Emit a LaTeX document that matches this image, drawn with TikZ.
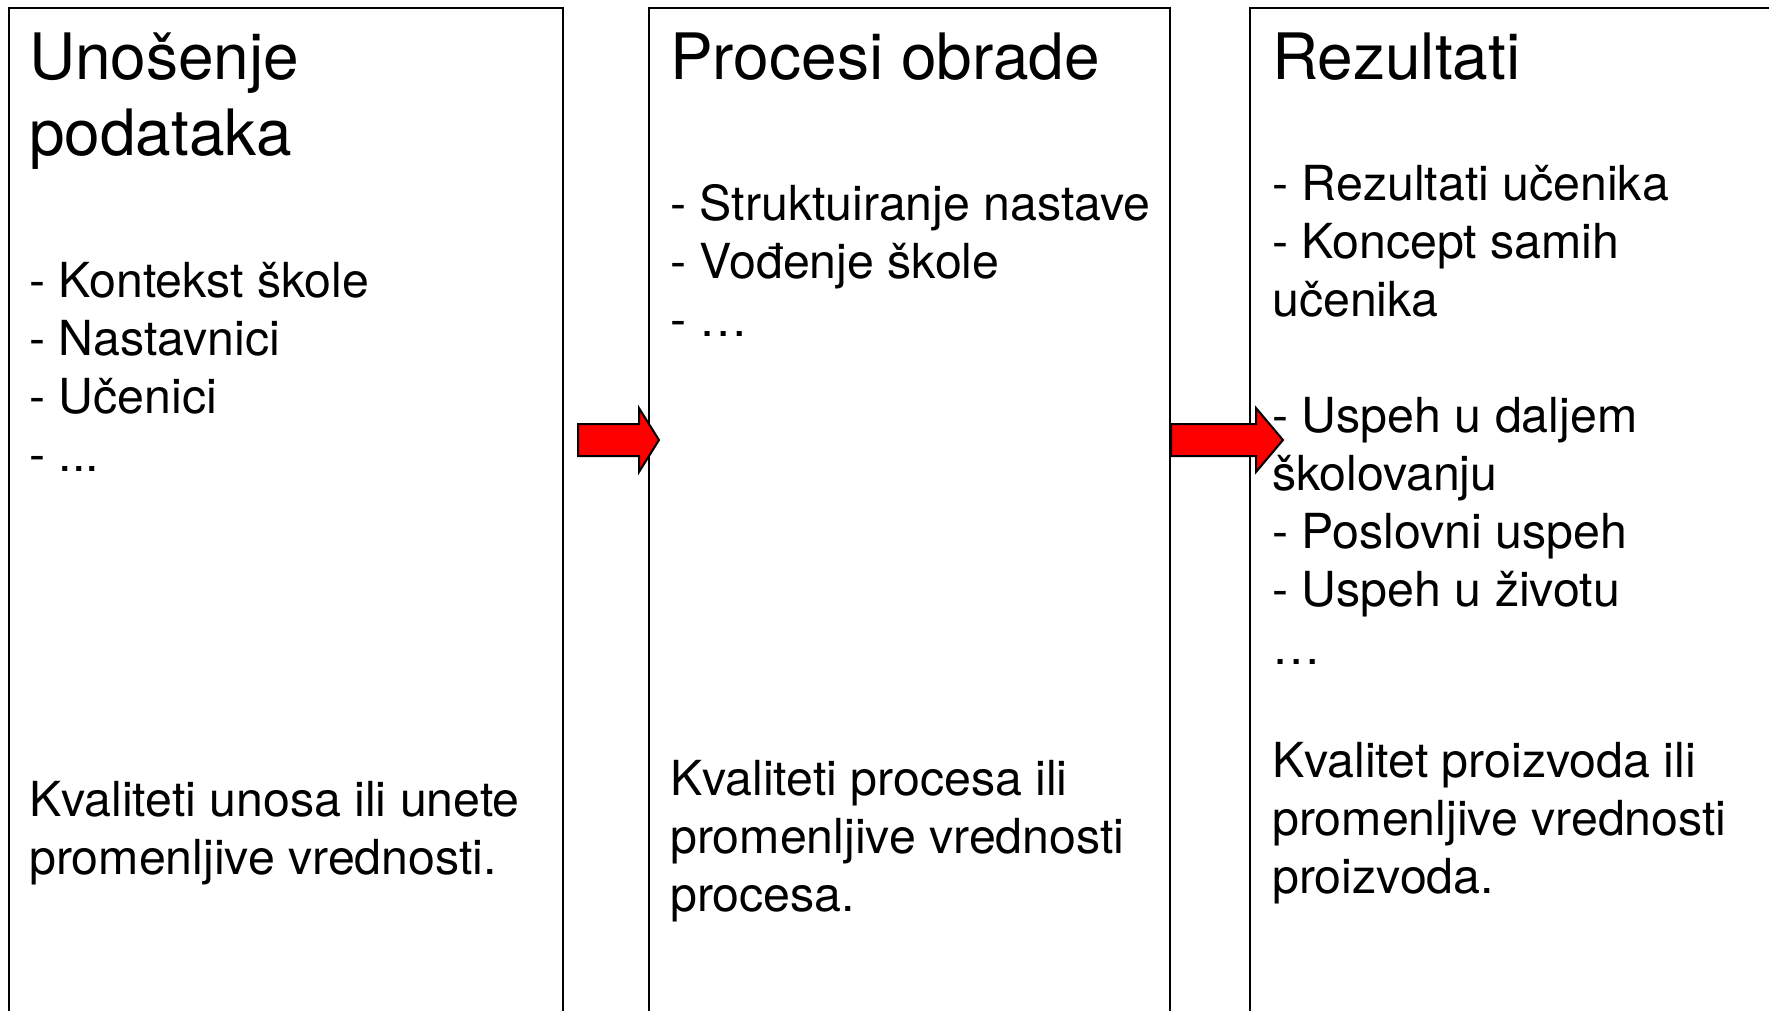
\documentclass[tikz,border=0pt]{standalone}
\usepackage{fontspec}
\setmainfont{TeX Gyre Heros}
\begin{document}
\begin{tikzpicture}[x=1pt,y=-1pt,
  panel/.style={draw=black,line width=2.5pt,inner sep=0pt,outer sep=0pt,anchor=north west},
  ttl/.style={anchor=base west,inner sep=0pt,font=\fontsize{64}{73}\selectfont},
  txt/.style={anchor=base west,inner sep=0pt,font=\fontsize{48.3}{58}\selectfont},
  blockarrow/.style={draw=black,fill=red,line width=2pt,line join=miter}]
\useasboundingbox (0,0) rectangle (1769,1010);
\clip (0,0) rectangle (1769,1010);
% panels
\node[panel,minimum width=554pt,minimum height=1030pt] (p1) at (9,8) {};
\node[panel,minimum width=521pt,minimum height=1030pt] (p2) at (649,8) {};
\node[panel,minimum width=560pt,minimum height=1030pt] (p3) at (1250,8) {};
% panel 1
\node[ttl] (a1) at (29,79) {Unošenje};
\node[ttl] (a2) at (29,155) {podataka};
\node[txt] (a3) at (29,297) {- Kontekst škole};
\node[txt] (a4) at (29,355) {- Nastavnici};
\node[txt] (a5) at (29,413) {- Učenici};
\node[txt] (a6) at (29,471) {- ...};
\node[txt] (a7) at (29,816) {Kvaliteti unosa ili unete};
\node[txt] (a8) at (29,874) {promenljive vrednosti.};
% panel 2
\node[ttl] (b1) at (670,79) {Procesi obrade};
\node[txt] (b2) at (670,220) {- Struktuiranje nastave};
\node[txt] (b3) at (670,278) {- Vođenje škole};
\node[txt] (b4) at (670,336) {- …};
\node[txt] (b5) at (670,795) {Kvaliteti procesa ili};
\node[txt] (b6) at (670,853) {promenljive vrednosti};
\node[txt] (b7) at (670,911) {procesa.};
% panel 3
\node[ttl] (c1) at (1272,79) {Rezultati};
\node[txt] (c2) at (1272,200) {- Rezultati učenika};
\node[txt] (c3) at (1272,258) {- Koncept samih};
\node[txt] (c4) at (1272,316) {učenika};
\node[txt] (c5) at (1272,432) {- Uspeh u daljem};
\node[txt] (c6) at (1272,490) {školovanju};
\node[txt] (c7) at (1272,548) {- Poslovni uspeh};
\node[txt] (c8) at (1272,606) {- Uspeh u životu};
\node[txt] (c9) at (1272,664) {…};
\node[txt] (c10) at (1272,777) {Kvalitet proizvoda ili};
\node[txt] (c11) at (1272,835) {promenljive vrednosti};
\node[txt] (c12) at (1272,893) {proizvoda.};
% block arrows
\draw[blockarrow] (578,424) -- (639,424) -- (639,408) -- (659,440) -- (639,472) -- (639,456) -- (578,456) -- cycle;
\draw[blockarrow] (1171,424) -- (1256,424) -- (1256,408) -- (1283,440) -- (1256,472) -- (1256,456) -- (1171,456) -- cycle;
\end{tikzpicture}
\end{document}
